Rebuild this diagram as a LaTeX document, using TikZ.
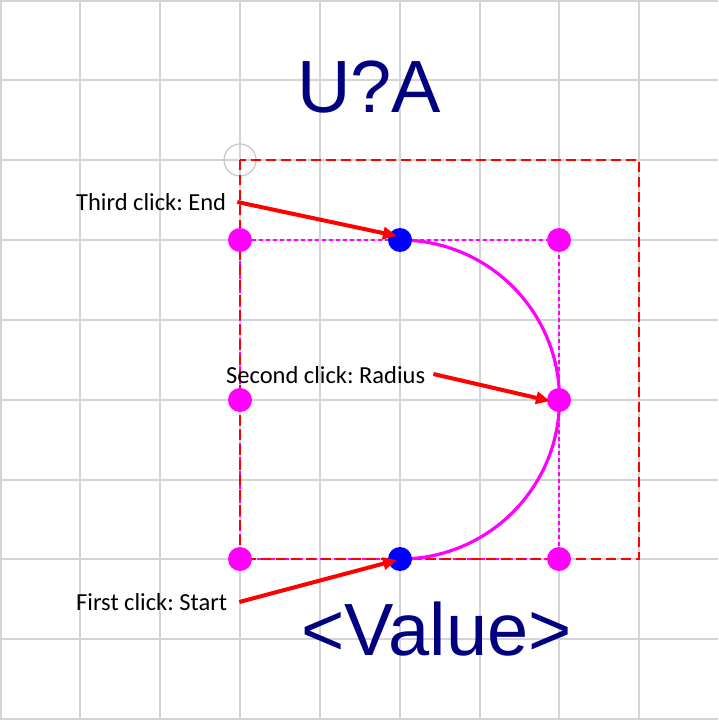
\documentclass[tikz,border=0pt]{standalone}
\usepackage{fontspec}
\setmainfont{Carlito}
\newfontfamily\arialf{Liberation Sans}
\usetikzlibrary{arrows.meta}
\definecolor{gridc}{RGB}{212,212,212}
\definecolor{navyc}{RGB}{0,0,128}
\definecolor{circc}{RGB}{200,200,200}
\definecolor{pmag}{RGB}{255,0,255}
\definecolor{pred}{RGB}{255,0,0}
\definecolor{pblue}{RGB}{0,0,255}
\frenchspacing
\begin{document}
\begin{tikzpicture}[x=1pt,y=-1pt,
  gridline/.style={draw=gridc,line width=1.2pt},
  reddash/.style={draw=pred,line width=1.2pt,dash pattern=on 10pt off 5pt},
  magdash/.style={draw=pmag,line width=1.4pt,dash pattern=on 4pt off 3pt},
  mdot/.style={circle,fill=pmag,minimum size=24pt,inner sep=0pt},
  bdot/.style={circle,fill=pblue,minimum size=24pt,inner sep=0pt},
  lbl/.style={anchor=west,inner sep=0pt,font=\fontsize{24.5}{29}\selectfont,text=black},
  big/.style={anchor=base,inner sep=0pt,font=\arialf\fontsize{74}{80}\selectfont,text=navyc},
  arr/.style={draw=pred,line width=4pt,-{Triangle[length=14pt,width=12pt]}}
]
\useasboundingbox (0,0) rectangle (718,720);
\fill[white] (0,0) rectangle (718,720);
\foreach \i in {1,80,160,240,320,400,480,559,639} {
  \draw[gridline] (\i,0) -- (\i,720);
}
\foreach \j in {1,80,160,240,320,400,480,559,639,719} {
  \draw[gridline] (0,\j) -- (718,\j);
}
% grey origin circle
\node[circle,draw=circc,line width=1.2pt,minimum size=32pt,inner sep=0pt] (org) at (240,160) {};
% magenta dashed box
\draw[magdash] (240,240) rectangle (559,559);
% red dashed box
\draw[reddash] (240,160) rectangle (639,559);
% dots
\node[mdot] (m1) at (240,240) {};
\node[mdot] (m2) at (559,240) {};
\node[mdot] (m3) at (240,400) {};
\node[mdot] (m4) at (559,400) {};
\node[mdot] (m5) at (240,559) {};
\node[mdot] (m6) at (559,559) {};
% arc
\draw[pmag,line width=3.2pt] (400,240) arc[start angle=90,end angle=-90,radius=159.5pt];
\node[bdot] (b1) at (400,240) {};
\node[bdot] (b2) at (400,559) {};
% labels
\node[lbl] (t3) at (76,202) {Third click: End};
\node[lbl] (t2) at (226,375) {Second click: Radius};
\node[lbl] (t1) at (76,602) {First click: Start};
% arrows
\draw[arr] ([xshift=11pt]t3.east) -- ([shift={(-3,-4)}]b1.center);
\draw[arr] ([xshift=8pt,yshift=1pt]t2.east) -- ([shift={(-9,1)}]m4.center);
\draw[arr] ([xshift=12pt]t1.east) -- ([shift={(-3,1)}]b2.center);
% big texts
\node[big] (ref) at (369,112) {U?A};
\node[big] (val) at (436.5,655) {<Value>};
\end{tikzpicture}
\end{document}
